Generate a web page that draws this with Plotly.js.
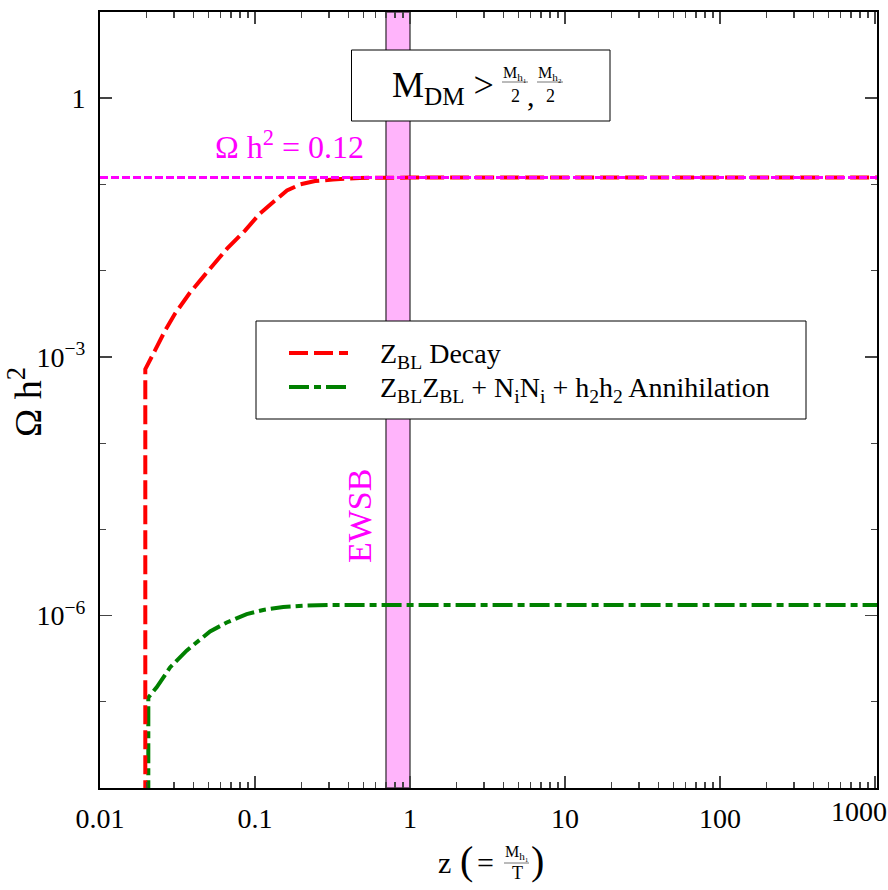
<!DOCTYPE html>
<html>
<head>
<meta charset="utf-8">
<script src="https://cdn.plot.ly/plotly-3.0.1.min.js"></script>
<style>html,body{margin:0;padding:0;background:#fff;}#plot{width:888px;height:890px;}</style>
</head>
<body>
<div id="plot"></div>
<script>
// ---- data ----
const decayZ = [0.0196, 0.0196, 0.0226, 0.0263, 0.0305, 0.0381, 0.0476, 0.066, 0.0862, 0.1077, 0.1346, 0.1608, 0.195, 0.244, 0.318, 0.475, 1, 10, 100, 1100];
const decayOmega = [1e-9, 7.2e-4, 1.18e-3, 2.02e-3, 3.18e-3, 5.57e-3, 9.0e-3, 0.018, 0.0292, 0.0461, 0.065, 0.085, 0.1, 0.1097, 0.114, 0.119, 0.12, 0.12, 0.12, 0.12];
const annZ = [0.0205, 0.0205, 0.0232, 0.0283, 0.0362, 0.0442, 0.0513, 0.0657, 0.0884, 0.113, 0.152, 0.205, 0.3, 1, 10, 100, 1100];
const annOmega = [1e-9, 1.12e-7, 1.47e-7, 2.5e-7, 3.92e-7, 5.35e-7, 6.55e-7, 8.3e-7, 1.04e-6, 1.16e-6, 1.26e-6, 1.3e-6, 1.33e-6, 1.33e-6, 1.33e-6, 1.33e-6, 1.33e-6];
const relicZ = [0.01, 1100];
const relicOmega = [0.12, 0.12];
const ewsbZ = [0.7, 1.0];
const xTickVals = [0.01, 0.1, 1, 10, 100, 1000];
const xTickText = ['0.01', '0.1', '1', '10', '100', ''];
const yTickVals = [1, 1e-3, 1e-6];
const yTickText = ['1', '10<sup>−3</sup>', '10<sup>−6</sup>'];
const legendLabels = ['Z<sub>BL</sub> Decay', 'Z<sub>BL</sub>Z<sub>BL</sub> + N<sub>i</sub>N<sub>i</sub> + h<sub>2</sub>h<sub>2</sub> Annihilation'];

// ---- minor ticks ----
const xMinor = [];
for (let e = -2; e < 3; e++) for (let m = 2; m <= 9; m++) xMinor.push(m * Math.pow(10, e));
const yMinor = [];
for (let e = -8; e <= 1; e++) yMinor.push(Math.pow(10, e));

const FONT = "'Liberation Serif', 'Times New Roman', serif";
const L = 100, R = 11, T = 12, B = 102, W = 888, H = 890;
const PW = W - L - R, PH = H - T - B;
const px = p => (p - L) / PW;
const py = p => (H - B - p) / PH;

const traces = [
  { x: [ewsbZ[0], ewsbZ[1], ewsbZ[1], ewsbZ[0], ewsbZ[0]], y: [1e-8, 1e-8, 10, 10, 1e-8],
    mode: 'lines', fill: 'toself', fillcolor: '#ffb4fb', line: { color: '#000', width: 1 }, hoverinfo: 'skip' },
  { x: annZ, y: annOmega, mode: 'lines', line: { color: '#008000', width: 4, dash: '20px,5px,7px,5px' } },
  { x: decayZ, y: decayOmega, mode: 'lines', line: { color: '#ff0000', width: 4, dash: '19px,6px' } },
  { x: relicZ, y: relicOmega, mode: 'lines', line: { color: '#ff00ff', width: 3, dash: '8px,3px' } }
];

const shapes = [
  // M_DM box
  { type: 'rect', xref: 'paper', yref: 'paper', x0: px(351.5), x1: px(610), y0: py(121), y1: py(50),
    line: { color: '#000', width: 1 }, fillcolor: '#fff', layer: 'above' },
  // fraction bars
  { type: 'line', xref: 'paper', yref: 'paper', x0: px(502), x1: px(528), y0: py(82), y1: py(82), line: { color: '#777', width: 1 } },
  { type: 'line', xref: 'paper', yref: 'paper', x0: px(537), x1: px(563), y0: py(82), y1: py(82), line: { color: '#777', width: 1 } },
  // legend box
  { type: 'rect', xref: 'paper', yref: 'paper', x0: px(256), x1: px(806), y0: py(419), y1: py(321),
    line: { color: '#000', width: 1 }, fillcolor: '#fff', layer: 'above' },
  { type: 'line', xref: 'paper', yref: 'paper', x0: px(289), x1: px(348), y0: py(353), y1: py(353),
    line: { color: '#ff0000', width: 4, dash: '19px,6px' } },
  { type: 'line', xref: 'paper', yref: 'paper', x0: px(289), x1: px(348), y0: py(387), y1: py(387),
    line: { color: '#008000', width: 4, dash: '20px,5px,7px,5px' } },
  // x title fraction bar
  { type: 'line', xref: 'paper', yref: 'paper', x0: px(504), x1: px(529), y0: py(863), y1: py(863), line: { color: '#777', width: 1 } }
];

function ann(text, x, y, size, opts) {
  return Object.assign({ xref: 'paper', yref: 'paper', x: px(x), y: py(y), text: text, showarrow: false,
    xanchor: 'center', yanchor: 'middle', font: { family: FONT, size: size, color: '#000' } }, opts || {});
}

const annotations = [
  ann('M<sub>DM</sub> >', 390, 88, 36, { xanchor: 'left' }),
  ann('M<sub>h₁</sub>', 515, 73, 16),
  ann('2', 515, 96, 18),
  ann(',', 531, 96, 30),
  ann('M<sub>h₂</sub>', 550, 73, 16),
  ann('2', 550, 96, 18),
  ann(legendLabels[0], 378, 355, 28, { xanchor: 'left' }),
  ann(legendLabels[1], 378, 389, 28, { xanchor: 'left' }),
  ann('Ω h<sup>2</sup> = 0.12', 289, 145, 32, { font: { family: FONT, size: 32, color: '#ff00ff' } }),
  ann('EWSB', 359, 516, 34, { textangle: -90, font: { family: FONT, size: 34, color: '#ff00ff' } }),
  ann('Ω h<sup>2</sup>', 25, 402, 38, { textangle: -90 }),
  ann('1000', 859, 812, 28),
  ann('z', 444, 862, 30),
  ann('(', 466, 860, 40),
  ann('=', 485, 862, 30),
  ann('M<sub>h₁</sub>', 517, 853, 16),
  ann('T', 517, 873, 18),
  ann(')', 537, 860, 40)
];

const layout = {
  width: W, height: H,
  margin: { l: L, r: R, t: T, b: B, pad: 0 },
  paper_bgcolor: '#fff', plot_bgcolor: '#fff',
  showlegend: false,
  font: { family: FONT, size: 28, color: '#000' },
  xaxis: {
    type: 'log', range: [-2, Math.log10(1030)],
    tickmode: 'array', tickvals: xTickVals, ticktext: xTickText,
    ticks: 'inside', ticklen: 12, tickwidth: 1.5, tickcolor: '#444',
    minor: { tickmode: 'array', tickvals: xMinor, ticks: 'inside', ticklen: 6, tickwidth: 1.2, tickcolor: '#444', showgrid: false },
    showgrid: false, zeroline: false,
    showline: true, linecolor: '#000', linewidth: 2, mirror: 'ticks',
    tickfont: { family: FONT, size: 28, color: '#000' }, ticklabelstandoff: 4
  },
  yaxis: {
    type: 'log', range: [-8, 1],
    tickmode: 'array', tickvals: yTickVals, ticktext: yTickText,
    ticks: 'inside', ticklen: 12, tickwidth: 1.5, tickcolor: '#444',
    minor: { tickmode: 'array', tickvals: yMinor, ticks: 'inside', ticklen: 6, tickwidth: 1.2, tickcolor: '#444', showgrid: false },
    showgrid: false, zeroline: false,
    showline: true, linecolor: '#000', linewidth: 2, mirror: 'ticks',
    tickfont: { family: FONT, size: 28, color: '#000' }, ticklabelstandoff: 7
  },
  shapes: shapes,
  annotations: annotations
};

Plotly.newPlot('plot', traces, layout, { staticPlot: true, displayModeBar: false });
</script>
</body>
</html>
